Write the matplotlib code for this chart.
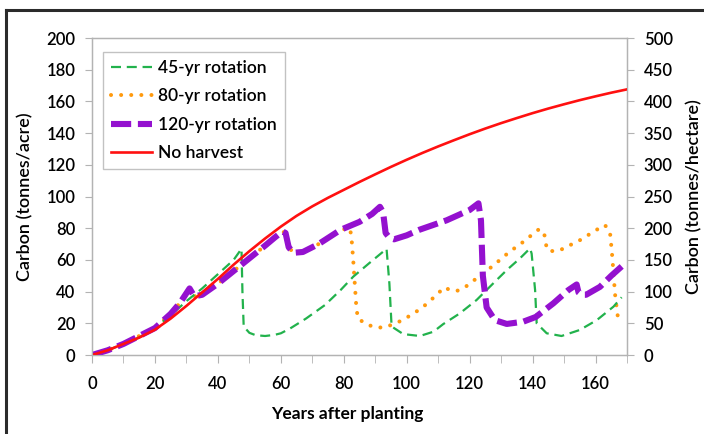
import matplotlib
matplotlib.use("Agg")
import matplotlib.pyplot as plt
from matplotlib.lines import Line2D
from matplotlib.ticker import MultipleLocator

plt.rcParams['font.family'] = ['Lato', 'DejaVu Sans']

# no harvest
red_years = [0, 5, 10, 15, 20, 25, 30, 35, 40, 45, 50, 55, 60, 65, 70, 75, 80, 85,
             90, 95, 100, 105, 110, 115, 120, 125, 130, 135, 140, 145, 150, 155,
             160, 165, 170]
red_carbon = [0, 3, 7, 11, 16, 23, 31, 39.5, 48, 57, 65.5, 73.5, 81, 87.8, 93.8,
              99.2, 104.2, 109.2, 114, 118.7, 123.2, 127.5, 131.6, 135.5, 139.3,
              142.9, 146.3, 149.5, 152.6, 155.5, 158.2, 160.8, 163.2, 165.5, 167.6]

# 45-yr rotation
green_years = [0, 5, 10, 15, 20, 25, 30, 35, 40, 45, 47.5, 47.8, 48.2, 50, 52, 55, 58,
               60, 63, 68, 74, 79, 83, 88, 93.6, 94.5, 95.2, 98.9, 104.2, 108.5,
               111.6, 116.9, 122.2, 127.5, 131.8, 136, 139.2, 139.7, 140.8, 141.3,
               144.5, 149.2, 155, 160.4, 165.7, 168.3]
green_carbon = [0, 3, 7, 11, 17, 25, 34, 42, 51, 60, 67, 40, 18, 14, 12.5, 12, 12.7,
                13.7, 16.8, 23, 31.5, 41, 49.4, 57.8, 67, 45, 18, 13.2, 12, 14.7,
                19.5, 26.3, 34.7, 45.2, 53.6, 61, 67.3, 64, 41, 20,
                13.7, 12, 15.8, 22, 30.5, 36.4]

# 80-yr rotation
orange_years = [0, 5, 10, 15, 20, 25, 28, 31, 32.5, 35, 40, 45, 50, 55, 58, 60.5,
                61.5, 62.5, 64, 67, 72, 79, 82, 82.5, 83, 83.5, 84, 84.5, 87.3, 90,
                92.6, 95.2, 98, 100.5, 103, 105.3, 107.7, 109.8, 111.9, 113.8, 115.9,
                118.5, 121.2, 123.3, 125.7, 128.1, 130.2, 132.6, 134.9, 137.4, 139.7,
                142, 143.7, 144, 145, 147.9, 150.5, 153, 155.6, 158, 160.6, 163,
                164.6, 165.2, 165.7, 166.2, 167, 168.1]
orange_carbon = [0, 3, 7, 12, 17, 26, 33, 42, 37, 38, 45, 53, 61, 69, 74, 78,
                 77, 68, 64.5, 65, 70, 79, 80, 73, 60, 45, 30, 23, 19.3, 17.5,
                 17.3, 19, 21.4, 24.2, 27.3, 30.5, 34.7, 38.5, 42.7, 41, 40.4,
                 42.7, 46.9, 49.8, 53.6, 57.4, 61, 65, 68.3, 71.9, 75.7,
                 79.3, 77.4, 71, 65.6, 65.6, 67.7, 70.5, 73, 76.1, 79.3, 82,
                 77.4, 65, 52, 38.5, 25.2, 20]

# 120-yr rotation
purple_years = [0, 5, 10, 15, 20, 25, 28, 31, 32.5, 35, 40, 45, 50, 55, 58, 60.5,
                61.5, 62.5, 64, 67, 72, 79, 85, 89, 91.5, 92.5, 93.3, 94.5, 96, 100,
                104, 112.7, 120, 122.8, 123.6, 124.2, 125.4, 128, 131.8, 137, 141,
                146.6, 151.4, 154, 154.6, 155.5, 157, 161.4, 165, 169.5]
purple_carbon = [0, 3, 7, 12, 17, 26, 33, 42, 37, 38, 45, 53, 61, 69, 74, 78,
                 77, 68, 64.5, 65, 70, 79, 84, 89, 93.5, 90, 77, 74, 73, 75.5,
                 79, 85, 91.5, 95.7, 85, 50, 30, 22, 19.6, 21, 24,
                 32.6, 41, 44.5, 39.5, 38, 38, 43, 50, 58]

fig = plt.figure(figsize=(7.04, 4.34), dpi=100)
ax = fig.add_axes([0.1307, 0.182, 0.7599, 0.7304])

ax.plot(green_years, green_carbon, color='#22b24c', lw=1.6,
        linestyle=(0, (4.5, 2.6)), label='45-yr rotation', zorder=3)
ax.plot(orange_years, orange_carbon, color='#ff9a0e', lw=2.9,
        linestyle=(0, (0.01, 2.5)), dash_capstyle='round',
        label='80-yr rotation', zorder=2)
ax.plot(purple_years, purple_carbon, color='#9411cf', lw=4.4,
        linestyle=(0, (3.3, 1.1)), label='120-yr rotation', zorder=4)
ax.plot(red_years, red_carbon, color='#ff1010', lw=1.9, label='No harvest', zorder=5)

ax.set_xlim(0, 170)
ax.set_ylim(0, 200)
ax.xaxis.set_major_locator(MultipleLocator(20))
ax.xaxis.set_minor_locator(MultipleLocator(10))
ax.yaxis.set_major_locator(MultipleLocator(20))

gray = '#b3b3b3'
for s in ax.spines.values():
    s.set_color(gray)
    s.set_linewidth(1.0)
ax.tick_params(axis='x', which='both', length=6, color=gray, pad=9,
               labelsize=12, labelcolor='black')
ax.tick_params(axis='y', length=5, color=gray, pad=7, labelsize=12,
               labelcolor='black')

ax2 = ax.twinx()
ax2.set_ylim(0, 500)
ax2.yaxis.set_major_locator(MultipleLocator(50))
for s in ax2.spines.values():
    s.set_color(gray)
ax2.tick_params(axis='y', length=5, color=gray, pad=7, labelsize=12,
                labelcolor='black')

for lbl in ax.get_xticklabels() + ax.get_yticklabels() + ax2.get_yticklabels():
    lbl.set_fontweight('semibold')

ax.set_xlabel('Years after planting', fontsize=12.5, fontweight='bold')
ax.xaxis.set_label_coords(0.477, -0.16)
ax.set_ylabel('Carbon (tonnes/acre)', fontsize=13, fontweight='semibold')
ax.yaxis.set_label_coords(-0.11, 0.5)
ax2.set_ylabel('Carbon (tonnes/hectare)', fontsize=13, fontweight='semibold')
ax2.yaxis.set_label_coords(1.11, 0.5)

leg = ax.legend(loc='upper left', bbox_to_anchor=(0.02, 0.956),
                borderaxespad=0.0,
                prop={'size': 12.5, 'weight': 'semibold'},
                frameon=True, fancybox=False, handlelength=2.4,
                handletextpad=0.35, labelspacing=0.72, borderpad=0.45)
leg.get_frame().set_edgecolor(gray)
leg.get_frame().set_linewidth(1.0)

# outer frame (top and left edges of the picture)
fig.add_artist(Line2D([0.0085, 1.0], [0.977, 0.977], color='#2b2b2b', lw=2.2))
fig.add_artist(Line2D([0.0085, 0.0085], [0.0, 0.977], color='#2b2b2b', lw=2.2))

fig.savefig('out.png', dpi=100)
